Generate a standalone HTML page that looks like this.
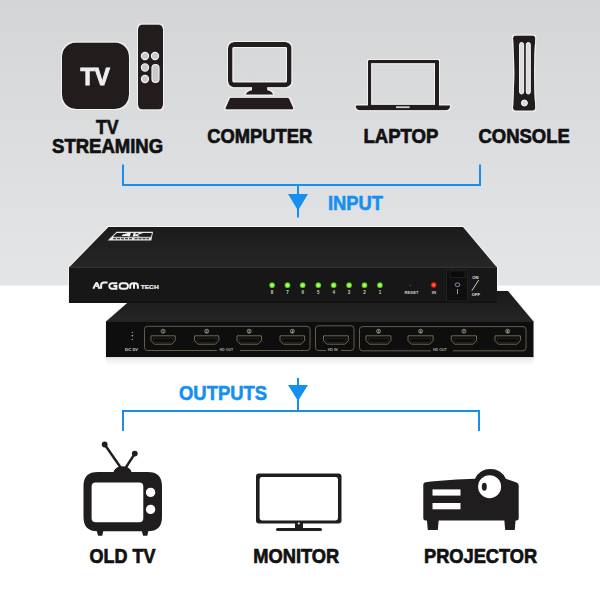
<!DOCTYPE html>
<html><head><meta charset="utf-8">
<style>
html,body{margin:0;padding:0;width:600px;height:600px;overflow:hidden;background:#fff}
svg{display:block;position:absolute;left:0;top:0}
text{font-family:"Liberation Sans",sans-serif;font-weight:bold}
</style></head>
<body>
<svg width="600" height="600" viewBox="0 0 600 600">
<defs>
<linearGradient id="bg" x1="0" y1="0" x2="0" y2="1">
<stop offset="0" stop-color="#d4d5d7"/>
<stop offset="1" stop-color="#e4e5e7"/>
</linearGradient>
<linearGradient id="topg" x1="0" y1="0" x2="0" y2="1">
<stop offset="0" stop-color="#1b1b1b"/>
<stop offset="1" stop-color="#262626"/>
</linearGradient>
<linearGradient id="refl" x1="0" y1="0" x2="0" y2="1">
<stop offset="0" stop-color="#e6e6e6"/>
<stop offset="1" stop-color="#ffffff"/>
</linearGradient>
<linearGradient id="reartop" x1="0" y1="0" x2="0" y2="1">
<stop offset="0" stop-color="#1a1a1a"/>
<stop offset="1" stop-color="#252525"/>
</linearGradient>
<filter id="halo" x="-10%" y="-10%" width="120%" height="120%">
<feMorphology in="SourceAlpha" operator="dilate" radius="1" result="d"/>
<feFlood flood-color="#f2f2f2" result="f"/>
<feComposite in="f" in2="d" operator="in" result="h"/>
<feMerge><feMergeNode in="h"/><feMergeNode in="SourceGraphic"/></feMerge>
</filter>
<radialGradient id="ledg"><stop offset="0" stop-color="#c6ff7a"/><stop offset="0.6" stop-color="#86f03c"/><stop offset="1" stop-color="#3c9a1c"/></radialGradient>
<radialGradient id="ledr"><stop offset="0" stop-color="#ff8a7a"/><stop offset="0.6" stop-color="#ff2a1a"/><stop offset="1" stop-color="#a01010"/></radialGradient>
</defs>
<rect x="0" y="0" width="600" height="600" fill="#fff"/>
<rect x="0" y="0" width="600" height="285.5" fill="url(#bg)"/>

<!-- ===== TOP ICONS ===== -->
<g filter="url(#halo)">
<g fill="#201d1e">
<!-- TV box -->
<rect x="62" y="42.5" width="67" height="66.5" rx="14" ry="14"/>
<!-- remote -->
<rect x="138" y="24.5" width="25" height="85" rx="4.5" ry="4.5"/>
</g>
<text x="80.5" y="85" font-size="23" fill="#eeeeee" stroke="#eeeeee" stroke-width="0.9" textLength="29.5" lengthAdjust="spacingAndGlyphs">TV</text>
<g fill="#c9c9c9" stroke="#f2f2f2" stroke-width="1.2">
<circle cx="145" cy="56" r="3.6"/>
<circle cx="155" cy="56" r="3.6"/>
<circle cx="145" cy="67.5" r="3.6"/>
<circle cx="145" cy="79" r="3.6"/>
<rect x="152" y="64.5" width="7" height="18" rx="3.5" ry="3.5"/>
</g>

<!-- computer -->
<g fill="#201d1e">
<path fill-rule="evenodd" d="M234 42h51.5a6 6 0 0 1 6 6v33.3a6 6 0 0 1-6 6h-51.5a6 6 0 0 1-6-6V48a6 6 0 0 1 6-6zM234 47a1.5 1.5 0 0 0-1.5 1.5v32.3a1.5 1.5 0 0 0 1.5 1.5h51.5a1.5 1.5 0 0 0 1.5-1.5V48.5a1.5 1.5 0 0 0-1.5-1.5z"/>
<path d="M252 87h15.3v3c3.5 0.5 5.5 2.5 5.8 4.7h-27.3c0.3-2.2 2.5-4.2 6.2-4.7z"/>
<path d="M230.5 97.7h57a2 2 0 0 1 1.9 1.4l3.8 8.5c0.4 1-0.3 1.8-1.3 1.8h-65c-1 0-1.7-0.8-1.3-1.8l3.8-8.5a2 2 0 0 1 1.9-1.4z"/>
</g>

<!-- laptop -->
<g fill="#201d1e">
<path fill-rule="evenodd" d="M369 60h69a1 1 0 0 1 1 1v45h-71v-45a1 1 0 0 1 1-1zM371.2 63.3v41.5h63.8v-41.5z"/>
<path d="M355.8 105.3h94.2v1.8c0 2-1.5 3.2-4.5 3.2h-85.2c-3 0-4.5-1.2-4.5-3.2z"/>
</g>
<rect x="396" y="106.3" width="13.6" height="1.8" fill="#cfcfcf"/>

<!-- console -->
<path fill="#201d1e" d="M516 35.4H532.3Q535.3 35.4 535.3 38.4Q532.8 73 535.3 107.7Q535.3 110.7 532.3 110.7H516Q513 110.7 513 107.7Q515.5 73 513 38.4Q513 35.4 516 35.4Z"/>
<g fill="#dcdcdc" stroke="#f8f8f8" stroke-width="1">
<rect x="519.6" y="42.5" width="4" height="51.5" rx="2"/>
<rect x="526.3" y="42.5" width="4" height="51.5" rx="2"/>
<circle cx="524.4" cy="103" r="3"/>
</g>

</g>
<g fill="#111" stroke="#111" stroke-width="0.7" font-size="20">
<text x="107.3" y="134" text-anchor="middle" textLength="22.5" lengthAdjust="spacingAndGlyphs">TV</text>
<text x="107.6" y="153" text-anchor="middle" textLength="111" lengthAdjust="spacingAndGlyphs">STREAMING</text>
<text x="259.8" y="143" text-anchor="middle" textLength="105" lengthAdjust="spacingAndGlyphs">COMPUTER</text>
<text x="400.9" y="143" text-anchor="middle" textLength="75" lengthAdjust="spacingAndGlyphs">LAPTOP</text>
<text x="524.1" y="143" text-anchor="middle" textLength="91.2" lengthAdjust="spacingAndGlyphs">CONSOLE</text>
</g>

<!-- ===== INPUT BRACKET ===== -->
<g fill="#1690ef">
<rect x="122" y="164.5" width="2" height="21.5"/>
<rect x="479" y="164.5" width="2" height="21.5"/>
<rect x="122" y="184" width="359" height="2"/>
<rect x="297" y="184" width="2" height="33.5"/>
<path d="M288 194h20l-10 16.5z"/>
<text x="328" y="209.5" font-size="20" stroke="#1690ef" stroke-width="0.6" textLength="55" lengthAdjust="spacingAndGlyphs">INPUT</text>
</g>

<!-- ===== DEVICE (rear unit) ===== -->
<path d="M127 303L106 321.5V357.2H533.5V321.5L508 291H497" fill="none" stroke="#f4f4f4" stroke-width="2"/>
<path fill="url(#reartop)" d="M141 291h367l25.5 30.5H106z"/>
<path fill="#2c2c2c" d="M106 321h427.5v1H106z"/>
<path fill="#0e0e0e" d="M106 321.8h427.5v35.4H106z"/>
<rect x="106" y="357.2" width="427.5" height="8" fill="url(#refl)"/>
<g fill="none" stroke="#6e6850" stroke-width="0.9">
<path d="M217 350.5H147.5a3 3 0 0 1-3-3V329.3a3 3 0 0 1 3-3H307a3 3 0 0 1 3 3v18.2a3 3 0 0 1-3 3H240"/>
<path d="M326 350.5H318.5a3 3 0 0 1-3-3V328.8a3 3 0 0 1 3-3H351a3 3 0 0 1 3 3v18.7a3 3 0 0 1-3 3H341"/>
<path d="M431 350.8H362.5a3 3 0 0 1-3-3V329.6a3 3 0 0 1 3-3H523a3 3 0 0 1 3 3v18.2a3 3 0 0 1-3 3H453"/>
</g>
<g fill="#a8a8a0" font-size="3.6" font-weight="normal">
<text x="219.5" y="351.3">HD OUT</text>
<text x="327.7" y="351.3">HD IN</text>
<text x="433" y="351.3">HD OUT</text>
<text x="125" y="351.4" font-size="4.4" fill="#d8d8d8" textLength="13" lengthAdjust="spacingAndGlyphs">DC 5V</text>
</g>
<g fill="#9a9a9a">
<circle cx="132.4" cy="332.4" r="0.7"/>
<circle cx="132.4" cy="335.6" r="0.9"/>
<circle cx="132.4" cy="339.4" r="0.7"/>
</g>
<path d="M151.0 335.8h24.2v4.8l-3.4 3.6h-17.4l-3.4-3.6z" fill="#0b0b0b" stroke="#7d7457" stroke-width="0.9"/>
<path d="M153.5 338.3h19.2v2.3l-1.8 1.6h-15.6l-1.8-1.6z" fill="none" stroke="#3a3628" stroke-width="0.6"/>
<circle cx="163.1" cy="331.2" r="2" fill="none" stroke="#c8c8c0" stroke-width="0.6"/>
<text x="163.1" y="332.5" font-size="3" fill="#d0d0c8" text-anchor="middle" font-weight="normal">1</text>
<path d="M194.5 335.8h24.3v4.8l-3.4 3.6h-17.5l-3.4-3.6z" fill="#0b0b0b" stroke="#7d7457" stroke-width="0.9"/>
<path d="M197.0 338.3h19.3v2.3l-1.8 1.6h-15.7l-1.8-1.6z" fill="none" stroke="#3a3628" stroke-width="0.6"/>
<circle cx="206.7" cy="331.2" r="2" fill="none" stroke="#c8c8c0" stroke-width="0.6"/>
<text x="206.7" y="332.5" font-size="3" fill="#d0d0c8" text-anchor="middle" font-weight="normal">2</text>
<path d="M237.0 335.8h24.5v4.8l-3.4 3.6h-17.7l-3.4-3.6z" fill="#0b0b0b" stroke="#7d7457" stroke-width="0.9"/>
<path d="M239.5 338.3h19.5v2.3l-1.8 1.6h-15.9l-1.8-1.6z" fill="none" stroke="#3a3628" stroke-width="0.6"/>
<circle cx="249.2" cy="331.2" r="2" fill="none" stroke="#c8c8c0" stroke-width="0.6"/>
<text x="249.2" y="332.5" font-size="3" fill="#d0d0c8" text-anchor="middle" font-weight="normal">3</text>
<path d="M280.0 335.8h24.6v4.8l-3.4 3.6h-17.8l-3.4-3.6z" fill="#0b0b0b" stroke="#7d7457" stroke-width="0.9"/>
<path d="M282.5 338.3h19.6v2.3l-1.8 1.6h-16.0l-1.8-1.6z" fill="none" stroke="#3a3628" stroke-width="0.6"/>
<circle cx="292.3" cy="331.2" r="2" fill="none" stroke="#c8c8c0" stroke-width="0.6"/>
<text x="292.3" y="332.5" font-size="3" fill="#d0d0c8" text-anchor="middle" font-weight="normal">4</text>
<path d="M323.5 335.8h24.8v4.8l-3.4 3.6h-18.0l-3.4-3.6z" fill="#0b0b0b" stroke="#7d7457" stroke-width="0.9"/>
<path d="M326.0 338.3h19.8v2.3l-1.8 1.6h-16.2l-1.8-1.6z" fill="none" stroke="#3a3628" stroke-width="0.6"/>
<path d="M366.0 335.8h24.9v4.8l-3.4 3.6h-18.1l-3.4-3.6z" fill="#0b0b0b" stroke="#7d7457" stroke-width="0.9"/>
<path d="M368.5 338.3h19.9v2.3l-1.8 1.6h-16.4l-1.8-1.6z" fill="none" stroke="#3a3628" stroke-width="0.6"/>
<circle cx="378.5" cy="331.2" r="2" fill="none" stroke="#c8c8c0" stroke-width="0.6"/>
<text x="378.5" y="332.5" font-size="3" fill="#d0d0c8" text-anchor="middle" font-weight="normal">5</text>
<path d="M408.0 335.8h25.1v4.8l-3.4 3.6h-18.3l-3.4-3.6z" fill="#0b0b0b" stroke="#7d7457" stroke-width="0.9"/>
<path d="M410.5 338.3h20.1v2.3l-1.8 1.6h-16.5l-1.8-1.6z" fill="none" stroke="#3a3628" stroke-width="0.6"/>
<circle cx="420.6" cy="331.2" r="2" fill="none" stroke="#c8c8c0" stroke-width="0.6"/>
<text x="420.6" y="332.5" font-size="3" fill="#d0d0c8" text-anchor="middle" font-weight="normal">6</text>
<path d="M451.3 335.8h25.2v4.8l-3.4 3.6h-18.4l-3.4-3.6z" fill="#0b0b0b" stroke="#7d7457" stroke-width="0.9"/>
<path d="M453.8 338.3h20.2v2.3l-1.8 1.6h-16.6l-1.8-1.6z" fill="none" stroke="#3a3628" stroke-width="0.6"/>
<circle cx="463.9" cy="331.2" r="2" fill="none" stroke="#c8c8c0" stroke-width="0.6"/>
<text x="463.9" y="332.5" font-size="3" fill="#d0d0c8" text-anchor="middle" font-weight="normal">7</text>
<path d="M495.0 335.8h25.4v4.8l-3.4 3.6h-18.6l-3.4-3.6z" fill="#0b0b0b" stroke="#7d7457" stroke-width="0.9"/>
<path d="M497.5 338.3h20.4v2.3l-1.8 1.6h-16.8l-1.8-1.6z" fill="none" stroke="#3a3628" stroke-width="0.6"/>
<circle cx="507.7" cy="331.2" r="2" fill="none" stroke="#c8c8c0" stroke-width="0.6"/>
<text x="507.7" y="332.5" font-size="3" fill="#d0d0c8" text-anchor="middle" font-weight="normal">8</text>

<!-- ===== DEVICE (front unit) ===== -->
<path d="M69 303V267.5L108.5 227H463L497 267.5V290" fill="none" stroke="#f4f4f4" stroke-width="2"/>
<path fill="url(#topg)" d="M108.5 227h354.5l34 40.5H69z"/>
<path fill="#3a3a3a" d="M69 266.8h428v1H69z"/>
<path fill="#171717" d="M69 267.5h428v35.5H69z"/>
<path fill="#121212" d="M69 301h428v2H69z"/>
<!-- 4K logo -->
<path d="M116.6 231.8H153.1L151.3 240.6H107.6Z" fill="#e8e8e8"/>
<path d="M116.8 232.9H151.9L151.1 236.7H112.9Z" fill="#1d1d1d"/>
<g fill="#f2f2f2"><path d="M127.8 232.9H130.8L129.8 236.7H127.6L127.9 235.9H121.8L122.2 234.8z"/><path d="M132.6 236.7L133.6 232.9H135.8L135.3 234.7L139.4 232.9H143.2L137.3 235.1L140.4 236.7H137.4L135.6 235.7L135.3 236.7z"/></g>
<rect x="114" y="236.7" width="37" height="0.5" fill="#1d1d1d"/>
<g fill="#4a4a4a"><rect x="113" y="238" width="3" height="1.3"/><rect x="117" y="238" width="3" height="1.3"/><rect x="121" y="238" width="3" height="1.3"/><rect x="125" y="238" width="3" height="1.3"/><rect x="129" y="238" width="3" height="1.3"/><rect x="134.5" y="238" width="3" height="1.3"/><rect x="138.5" y="238" width="3" height="1.3"/><rect x="142.5" y="238" width="3" height="1.3"/><rect x="146.5" y="238" width="2.5" height="1.3"/></g>
<!-- argom logo -->
<g fill="none" stroke="#f2f2f2" stroke-width="2" stroke-linecap="butt">
<path d="M93.3 288.8L95.9 283.6Q96.6 282.3 97.4 283.6L99.4 288.8"/>
<path d="M101.1 288.8V285.5a3 3 0 0 1 3-3H107.6"/>
<path d="M117.3 283.2H112.2a2.9 2.9 0 0 0-2.9 2.9v0a2.7 2.7 0 0 0 2.7 2.7H116.4V285.9H113.6"/>
<rect x="119.6" y="283.2" width="8.3" height="5.6" rx="2.6"/>
<path d="M130.2 288.8V285.9a2.7 2.7 0 0 1 2.7-2.7h2.3a2.7 2.7 0 0 1 2.7 2.7V288.8M134 283.4V288.8"/>
</g>
<circle cx="96.5" cy="286.2" r="0.9" fill="#f2f2f2"/>
<text x="140.7" y="288.8" font-size="4.9" font-weight="normal" fill="#f0f0f0" stroke="#f0f0f0" stroke-width="0.2" textLength="18" lengthAdjust="spacingAndGlyphs">TECH</text>
<!-- LEDs -->
<g>
<circle cx="272.1" cy="285.2" r="2.9" fill="url(#ledg)"/>
<text x="272.1" y="294.2" font-size="4.5" fill="#d0d0d0" text-anchor="middle" font-weight="normal">8</text>
<circle cx="287.5" cy="285.2" r="2.9" fill="url(#ledg)"/>
<text x="287.5" y="294.2" font-size="4.5" fill="#d0d0d0" text-anchor="middle" font-weight="normal">7</text>
<circle cx="302.7" cy="285.2" r="2.9" fill="url(#ledg)"/>
<text x="302.7" y="294.2" font-size="4.5" fill="#d0d0d0" text-anchor="middle" font-weight="normal">6</text>
<circle cx="318.3" cy="285.2" r="2.9" fill="url(#ledg)"/>
<text x="318.3" y="294.2" font-size="4.5" fill="#d0d0d0" text-anchor="middle" font-weight="normal">5</text>
<circle cx="333.7" cy="285.2" r="2.9" fill="url(#ledg)"/>
<text x="333.7" y="294.2" font-size="4.5" fill="#d0d0d0" text-anchor="middle" font-weight="normal">4</text>
<circle cx="349.1" cy="285.2" r="2.9" fill="url(#ledg)"/>
<text x="349.1" y="294.2" font-size="4.5" fill="#d0d0d0" text-anchor="middle" font-weight="normal">3</text>
<circle cx="364.5" cy="285.2" r="2.9" fill="url(#ledg)"/>
<text x="364.5" y="294.2" font-size="4.5" fill="#d0d0d0" text-anchor="middle" font-weight="normal">2</text>
<circle cx="379.9" cy="285.2" r="2.9" fill="url(#ledg)"/>
<text x="379.9" y="294.2" font-size="4.5" fill="#d0d0d0" text-anchor="middle" font-weight="normal">1</text>
</g>
<circle cx="410.3" cy="285.4" r="1" fill="#3a3a3a"/>
<text x="411.5" y="294" font-size="4.2" fill="#d0d0d0" text-anchor="middle" font-weight="normal" textLength="14" lengthAdjust="spacingAndGlyphs">RESET</text>
<circle cx="433.7" cy="285" r="2.9" fill="url(#ledr)"/>
<text x="433.9" y="294" font-size="4.2" fill="#d0d0d0" text-anchor="middle" font-weight="normal">IN</text>
<!-- switch -->
<rect x="446.5" y="269.5" width="21" height="31.5" fill="#0f0f0f" stroke="#262626" stroke-width="0.8"/>
<rect x="450" y="271" width="15" height="6.7" fill="#0a0a0a" stroke="#2e2e2e" stroke-width="0.6"/>
<ellipse cx="457.5" cy="284.7" rx="2.4" ry="1.8" fill="none" stroke="#9fb0d8" stroke-width="0.8"/>
<rect x="457" y="289" width="1" height="5" fill="#8a9cc8"/>
<text x="472.3" y="279.4" font-size="4.2" fill="#e6e6e6">ON</text>
<text x="471.8" y="296" font-size="4.2" fill="#e6e6e6" textLength="8.2" lengthAdjust="spacingAndGlyphs">OFF</text>
<path d="M471.8 290.8L478.7 280" stroke="#e0e0e0" stroke-width="0.9"/>

<!-- ===== OUTPUT BRACKET ===== -->
<g fill="#1690ef">
<rect x="122" y="410" width="2" height="21"/>
<rect x="478" y="410" width="2" height="21"/>
<rect x="122" y="410" width="358" height="2"/>
<rect x="297" y="378" width="2" height="33"/>
<path d="M288 385h20l-10 16z"/>
<text x="179" y="400" font-size="20" stroke="#1690ef" stroke-width="0.6" textLength="88" lengthAdjust="spacingAndGlyphs">OUTPUTS</text>
</g>

<!-- ===== BOTTOM ICONS ===== -->
<!-- old tv -->
<g fill="#201d1e">
<path d="M104.7 444.5L121 468M134.8 453.6L125.5 468" fill="none" stroke="#201d1e" stroke-width="2.4"/>
<circle cx="104.7" cy="444.5" r="2.9"/>
<circle cx="134.8" cy="453.6" r="2.9"/>
<path d="M113.5 473c0-4 4-6.8 9-6.8s9 2.8 9 6.8z"/>
<path fill-rule="evenodd" d="M98 472h49.5c10 0 14.5 4.5 14.5 14.5v30.2c0 10-4.5 14.5-14.5 14.5h-49.5c-10 0-14.5-4.5-14.5-14.5v-30.2c0-10 4.5-14.5 14.5-14.5zM95.6 482.6a4 4 0 0 0-4 4v31.6a4 4 0 0 0 4 4h43.7a4 4 0 0 0 4-4v-31.6a4 4 0 0 0-4-4z"/>
<path d="M96.5 530h7l-1.2 5.8h-4.2zM141.5 530h7l-1.2 5.8h-4.2z"/>
</g>
<circle cx="150.6" cy="492.4" r="4.7" fill="#fff"/>
<circle cx="150.6" cy="509.4" r="4.7" fill="#fff"/>

<!-- monitor -->
<g fill="#201d1e">
<path fill-rule="evenodd" d="M259 473.5h79.5a3 3 0 0 1 3 3v44a3 3 0 0 1-3 3h-79.5a3 3 0 0 1-3-3v-44a3 3 0 0 1 3-3zM262 477a2.4 2.4 0 0 0-2.4 2.4v38.6a2.4 2.4 0 0 0 2.4 2.4h73.6a2.4 2.4 0 0 0 2.4-2.4v-38.6a2.4 2.4 0 0 0-2.4-2.4z"/>
<rect x="295" y="523" width="8" height="6"/>
<rect x="276" y="528" width="46" height="3" rx="1.5"/>
</g>
<circle cx="298.8" cy="523.5" r="1" fill="#fff"/>

<!-- projector -->
<g fill="#201d1e">
<path d="M425.5 482.3C440 480.5 460 479.3 475 478.8A17 17 0 0 1 505.8 478.8L516.5 482.5Q518.7 483.3 518.7 485.5V518.3Q518.7 520.5 516.5 520.5H425.5Q423.3 520.5 423.3 518.3V484.5Q423.3 482.5 425.5 482.3Z"/>
<path d="M426.8 519h12l-1 11h-10z"/>
<path d="M504.2 519h11.5l-1 11h-9.5z"/>
</g>
<g fill="#fff">
<rect x="432.5" y="489.4" width="28" height="6.2"/>
<rect x="432.5" y="503" width="28" height="6.3"/>
<circle cx="489.6" cy="486.7" r="11.5"/>
</g>
<ellipse cx="484.3" cy="486.7" rx="2.5" ry="4" fill="#201d1e"/>

<g fill="#111" stroke="#111" stroke-width="0.7" font-size="20">
<text x="122.5" y="562.5" text-anchor="middle" textLength="66" lengthAdjust="spacingAndGlyphs">OLD TV</text>
<text x="296.3" y="563" text-anchor="middle" textLength="86" lengthAdjust="spacingAndGlyphs">MONITOR</text>
<text x="480.6" y="563" text-anchor="middle" textLength="113.2" lengthAdjust="spacingAndGlyphs">PROJECTOR</text>
</g>
</svg>
</body></html>
